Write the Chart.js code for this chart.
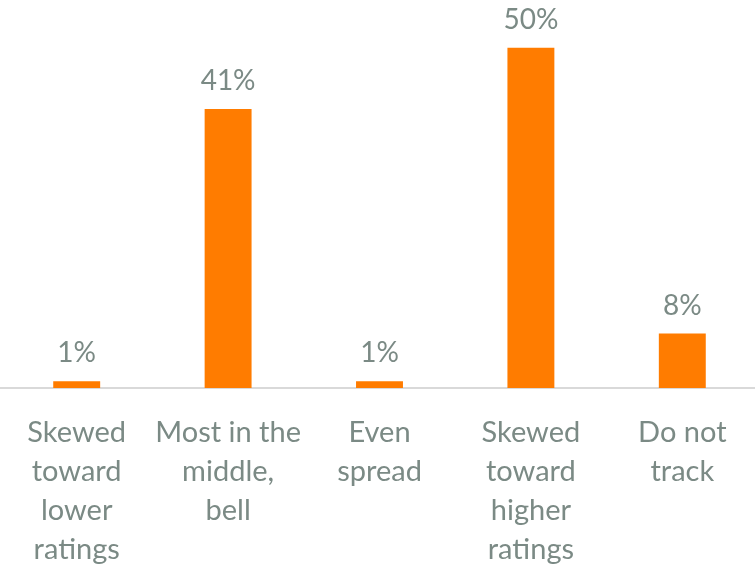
<!DOCTYPE html>
<html>
<head>
<meta charset="utf-8">
<script src="https://cdn.jsdelivr.net/npm/chart.js@4.4.1/dist/chart.umd.min.js"></script>
<style>
  html, body { margin: 0; padding: 0; background: #fff; overflow: hidden; }
  #wrap { width: 758px; height: 565px; position: relative; }
</style>
</head>
<body>
<div id="wrap"><canvas id="chart"></canvas></div>
<script>
const categories = [
  ['Skewed', 'toward', 'lower', 'ratings'],
  ['Most in the', 'middle,', 'bell'],
  ['Even', 'spread'],
  ['Skewed', 'toward', 'higher', 'ratings'],
  ['Do not', 'track'],
];
const shares = [1, 41, 1, 50, 8];

const textColor = '#7b8a85';
const barColor = '#ff7c00';

// percent labels sitting above each bar
const valueLabels = {
  id: 'valueLabels',
  afterDatasetsDraw(chart) {
    const ctx = chart.ctx;
    const meta = chart.getDatasetMeta(0);
    ctx.save();
    ctx.font = '28px Lato';
    ctx.fillStyle = textColor;
    ctx.textAlign = 'center';
    ctx.textBaseline = 'alphabetic';
    meta.data.forEach((bar, i) => {
      ctx.fillText(shares[i] + '%', bar.x, bar.y - 19);
    });
    ctx.restore();
  }
};

new Chart(document.getElementById('chart'), {
  type: 'bar',
  data: {
    labels: categories,
    datasets: [{
      data: shares,
      backgroundColor: barColor,
      categoryPercentage: 1,
      barPercentage: 0.31,
    }]
  },
  options: {
    responsive: true,
    maintainAspectRatio: false,
    animation: false,
    layout: {padding: {left: 1, right: 0, top: 0, bottom: 0}},
    plugins: {legend: {display: false}, tooltip: {enabled: false}},
    scales: {
      x: {
        grid: {display: false, drawTicks: false},
        border: {display: true, color: '#d9d9d9', width: 2},
        ticks: {
          color: textColor,
          font: {family: 'Lato', size: 29, lineHeight: 1.345},
          padding: 25,
          maxRotation: 0,
          autoSkip: false,
        },
        afterFit: scale => { scale.height = 177; },
      },
      y: {
        display: false,
        min: 0,
        max: 57,
      }
    }
  },
  plugins: [valueLabels]
});
</script>
</body>
</html>
